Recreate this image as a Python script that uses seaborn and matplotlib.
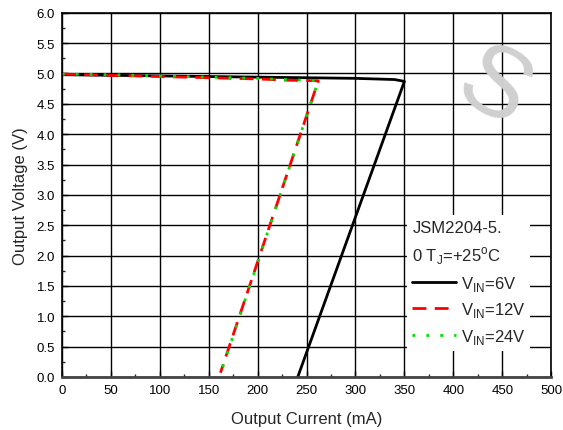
import matplotlib
matplotlib.use("Agg")
import matplotlib.pyplot as plt
from matplotlib.ticker import MultipleLocator
import seaborn as sns

# Output characteristic, foldback current limit
cur_6v = [0, 50, 100, 150, 200, 250, 300, 340, 350, 241]
volt_6v = [4.98, 4.97, 4.96, 4.95, 4.94, 4.93, 4.92, 4.90, 4.87, 0.0]

cur_12v = [0, 50, 100, 150, 200, 230, 262, 162]
volt_12v = [4.99, 4.97, 4.95, 4.93, 4.91, 4.89, 4.88, 0.07]

cur_24v = [0, 50, 100, 150, 200, 230, 262, 164]
volt_24v = [4.99, 4.98, 4.96, 4.94, 4.92, 4.90, 4.88, 0.15]

x_ticks = list(range(0, 501, 50))
y_ticks = [i * 0.5 for i in range(13)]

sns.set_theme(style="ticks")
plt.rcParams['font.family'] = ['Liberation Sans', 'DejaVu Sans']
plt.rcParams['mathtext.fontset'] = 'custom'
plt.rcParams['mathtext.rm'] = 'Liberation Sans'

fig = plt.figure(figsize=(5.63, 4.31), dpi=100)
ax = fig.add_axes([0.110, 0.123, 0.869, 0.845])

ax.grid(True, which='major', color='black', linewidth=1.0)

sns.lineplot(x=cur_6v, y=volt_6v, sort=False, estimator=None, ax=ax,
             color='black', linewidth=2, label=r'V$_{\mathrm{IN}}$=6V')
sns.lineplot(x=cur_12v, y=volt_12v, sort=False, estimator=None, ax=ax,
             color='#ff0000', linewidth=2, dashes=(5, 3),
             label=r'V$_{\mathrm{IN}}$=12V')
sns.lineplot(x=cur_24v, y=volt_24v, sort=False, estimator=None, ax=ax,
             color='#00e000', linewidth=2, dashes=(1, 4),
             label=r'V$_{\mathrm{IN}}$=24V')

ax.set_xlim(0, 500)
ax.set_ylim(0, 6.0)
ax.set_xticks(x_ticks)
ax.set_yticks(y_ticks)
ax.set_yticklabels([f"{v:.1f}" for v in y_ticks])
ax.xaxis.set_minor_locator(MultipleLocator(25))
ax.yaxis.set_minor_locator(MultipleLocator(0.25))
ax.tick_params(which='major', direction='in', length=4, width=1,
               labelsize=9.5, colors='black', pad=5)
ax.tick_params(which='minor', direction='in', length=2, width=1)
for s in ax.spines.values():
    s.set_color('black')
    s.set_linewidth(1.2)
ax.spines['bottom'].set_linewidth(2)
ax.spines['bottom'].set_color('#444444')

ax.set_xlabel('Output Current (mA)', fontsize=12, labelpad=11)
ax.set_ylabel('Output Voltage (V)', fontsize=12, labelpad=6)

leg = ax.legend(title='JSM2204-5.\n0 T$_{\\mathrm{J}}$=+25$^{\\mathrm{o}}$C',
                loc='upper left', bbox_to_anchor=(0.706, 0.445),
                frameon=True, fancybox=False, framealpha=1,
                edgecolor='none', facecolor='white', fontsize=12,
                title_fontsize=12, handlelength=2.6, handletextpad=0.3,
                borderpad=0.3, labelspacing=0.45, borderaxespad=0)
leg._legend_box.align = 'left'
leg.get_title().set_linespacing(1.6)

# faint watermark on the right
fig.text(0.875, 0.79, 'S', fontsize=72, color='#d0d0d0', rotation=-30,
         ha='center', va='center', zorder=0)

fig.savefig('out.png', dpi=100)
